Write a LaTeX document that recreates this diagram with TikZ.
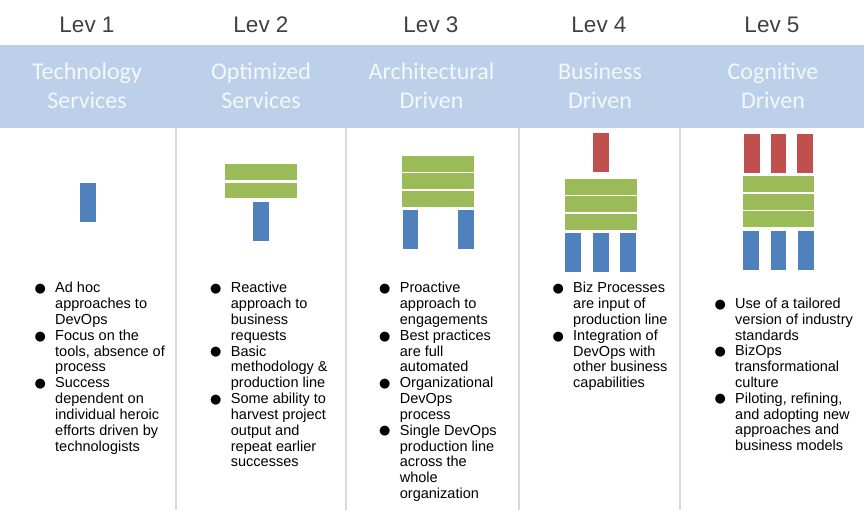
\documentclass[tikz,border=0pt]{standalone}
\usepackage{fontspec}
\setmainfont{Liberation Sans}
\newfontfamily\calibfont{Carlito}
\newfontfamily\symfont{DejaVu Sans}
\definecolor{bandcol}{HTML}{BDD0EA}
\definecolor{bluebar}{HTML}{4F81BD}
\definecolor{greenbar}{HTML}{9BBB59}
\definecolor{redbar}{HTML}{C0504D}
\definecolor{sepcol}{HTML}{D9D9D9}
\definecolor{levcol}{HTML}{404040}
\definecolor{bandtext}{HTML}{F4F7FC}
\newcommand\bulmark{\makebox[20.7pt][l]{\raisebox{0.3pt}{\symfont\fontsize{13}{13}\selectfont ●}}}
\newcommand\ind{\hspace*{20.7pt}}
\tikzset{
  levlabel/.style={inner sep=0pt, anchor=base, text=levcol, font=\fontsize{22.5}{27}\selectfont},
  bandtxt/.style={inner sep=0pt, anchor=base, align=center, text=bandtext, font=\calibfont\fontsize{24}{28.7}\selectfont},
  bultxt/.style={inner sep=0pt, anchor=base west, text=black, font=\fontsize{14.5}{15.8}\selectfont},
  sepline/.style={draw=sepcol, line width=1.1pt},
  bbar/.style={fill=bluebar},
  gbar/.style={fill=greenbar},
  rbar/.style={fill=redbar}
}
\begin{document}
\begin{tikzpicture}[x=1pt,y=-1pt]
\useasboundingbox (0,0) rectangle (864,510);
\fill[bandcol] (0,45) rectangle (864,128);
% separators
\foreach \sx in {176,346,519,680} \draw[sepline] (\sx,128) -- (\sx,510);
% level labels
\node[levlabel] (lev1) at (87,33) {Lev 1};
\node[levlabel] (lev2) at (261,33) {Lev 2};
\node[levlabel] (lev3) at (431,33) {Lev 3};
\node[levlabel] (lev4) at (599,33) {Lev 4};
\node[levlabel] (lev5) at (772,33) {Lev 5};
% band titles (anchor = baseline of the last line)
\node[bandtxt] (t1) at (87,108.5) {Technology\\Services};
\node[bandtxt] (t2) at (261,108.5) {Optimized\\Services};
\node[bandtxt] (t3) at (431.5,108.5) {Architectural\\Driven};
\node[bandtxt] (t4) at (600,108.5) {Business\\Driven};
\node[bandtxt] (t5) at (773,108.5) {Cognitive\\Driven};
% Lev 1 graphic
\fill[bbar] (80,183) rectangle (96,222);
% Lev 2 graphic
\fill[gbar] (225,164) rectangle (297,180);
\fill[gbar] (225,183) rectangle (297,198);
\fill[bbar] (253,202) rectangle (269,241);
% Lev 3 graphic
\fill[gbar] (402,156) rectangle (474,172);
\fill[gbar] (402,173) rectangle (474,189);
\fill[gbar] (402,191) rectangle (474,207);
\fill[bbar] (403,210) rectangle (418,249);
\fill[bbar] (458,210) rectangle (474,249);
% Lev 4 graphic
\fill[rbar] (593,133) rectangle (609,172);
\fill[gbar] (565,179) rectangle (637,195);
\fill[gbar] (565,196) rectangle (637,212);
\fill[gbar] (565,214) rectangle (637,230);
\fill[bbar] (565,233) rectangle (581,272);
\fill[bbar] (593,233) rectangle (609,272);
\fill[bbar] (620,233) rectangle (636,272);
% Lev 5 graphic
\fill[rbar] (744,134) rectangle (760,173);
\fill[rbar] (771,134) rectangle (786,173);
\fill[rbar] (797,134) rectangle (813,173);
\fill[gbar] (743,176) rectangle (814,192);
\fill[gbar] (743,194) rectangle (814,210);
\fill[gbar] (743,211) rectangle (814,227);
\fill[bbar] (743,231) rectangle (759,270);
\fill[bbar] (771,231) rectangle (786,270);
\fill[bbar] (798,231) rectangle (814,270);
% bullet texts
\node[bultxt] (b1) at (34.3,293) {\begin{tabular}[t]{@{}l@{}}
\bulmark Ad hoc\\ \ind approaches to\\ \ind DevOps\\
\bulmark Focus on the\\ \ind tools, absence of\\ \ind process\\
\bulmark Success\\ \ind dependent on\\ \ind individual heroic\\ \ind efforts driven by\\ \ind technologists
\end{tabular}};
\node[bultxt] (b2) at (210,293) {\begin{tabular}[t]{@{}l@{}}
\bulmark Reactive\\ \ind approach to\\ \ind business\\ \ind requests\\
\bulmark Basic\\ \ind methodology \&\\ \ind production line\\
\bulmark Some ability to\\ \ind harvest project\\ \ind output and\\ \ind repeat earlier\\ \ind successes
\end{tabular}};
\node[bultxt] (b3) at (379,293) {\begin{tabular}[t]{@{}l@{}}
\bulmark Proactive\\ \ind approach to\\ \ind engagements\\
\bulmark Best practices\\ \ind are full\\ \ind automated\\
\bulmark Organizational\\ \ind DevOps\\ \ind process\\
\bulmark Single DevOps\\ \ind production line\\ \ind across the\\ \ind whole\\ \ind organization
\end{tabular}};
\node[bultxt] (b4) at (552.3,293) {\begin{tabular}[t]{@{}l@{}}
\bulmark Biz Processes\\ \ind are input of\\ \ind production line\\
\bulmark Integration of\\ \ind DevOps with\\ \ind other business\\ \ind capabilities
\end{tabular}};
\node[bultxt] (b5) at (714.3,308.5) {\begin{tabular}[t]{@{}l@{}}
\bulmark Use of a tailored\\ \ind version of industry\\ \ind standards\\
\bulmark BizOps\\ \ind transformational\\ \ind culture\\
\bulmark Piloting, refining,\\ \ind and adopting new\\ \ind approaches and\\ \ind business models
\end{tabular}};
\end{tikzpicture}
\end{document}
